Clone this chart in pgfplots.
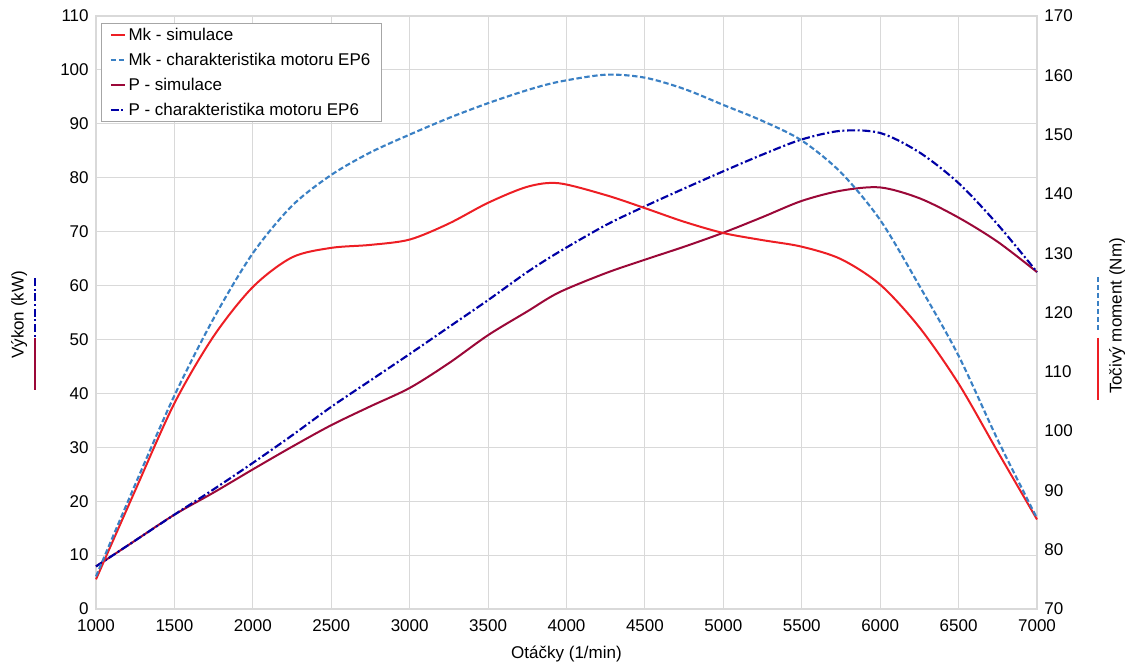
\documentclass[border=0pt]{standalone}
\usepackage{fontspec}
\setmainfont{Liberation Sans}
\usepackage{pgfplots}
\usepackage{pgfplotstable}
\pgfplotsset{compat=1.18}
\usetikzlibrary{calc}

\definecolor{mksim}{RGB}{237,30,36}
\definecolor{mkchar}{RGB}{58,128,196}
\definecolor{psim}{RGB}{155,8,56}
\definecolor{pchar}{RGB}{0,0,165}
\definecolor{gridgray}{RGB}{217,217,217}

% rpm, torque [Nm], power [kW]
\pgfplotstableread{
rpm   Mksim  Mkchar  Psim  Pchar
1000  75.0   75.5    7.9   7.9
1250  90.0   91.0    12.7  12.7
1500  104.7  106.0   17.5  17.5
1750  116.0  119.0   21.6  22.2
2000  124.3  130.0   25.9  27.1
2250  129.3  138.0   30.1  32.2
2500  130.9  143.2   34.1  37.5
2750  131.4  147.0   37.6  42.4
3000  132.3  150.0   41.0  47.3
3250  135.0  152.8   45.6  52.3
3500  138.5  155.3   50.8  57.3
3750  141.2  157.5   55.2  62.5
3950  141.8  158.9   58.7  66.2
4250  139.8  160.1   62.3  71.2
4500  137.6  159.6   64.8  74.7
4750  135.3  157.7   67.2  78.0
5000  133.4  155.0   69.8  81.2
5250  132.2  152.3   72.7  84.3
5500  131.1  149.0   75.7  87.1
5750  129.0  143.6   77.6  88.7
6000  124.7  135.6   78.2  88.3
6250  117.5  124.5   76.2  84.7
6500  108.0  112.7   72.6  79.0
6750  96.5   98.5    68.1  71.3
7000  85.1   85.3    62.5  62.5
}\enginedata

\tikzset{
  mksimline/.style={mksim, line width=1.5pt},
  mkcharline/.style={mkchar, line width=1.6pt, dash pattern=on 4pt off 2pt},
  psimline/.style={psim, line width=1.5pt},
  pcharline/.style={pchar, line width=1.6pt, dash pattern=on 6pt off 2pt on 1.5pt off 2pt},
}

\pgfplotsset{
  basestyle/.style={
    scale only axis,
    width=705.75pt, height=444.75pt,
    xmin=1000, xmax=7000,
    tick style={draw=none},
    /pgf/number format/assume math mode=true,
    /pgf/number format/1000 sep={},
    tick label style={font=\fontsize{12.75}{15}\selectfont},
    clip=false,
  },
}

\begin{document}
\begin{tikzpicture}[font=\fontsize{12.75}{15}\selectfont]
% power axis (left) with grid and rpm axis
\begin{axis}[
  basestyle,
  ymin=0, ymax=110,
  xtick={1000,1500,...,7000},
  ytick={0,10,...,110},
  grid=major,
  major grid style={gridgray, line width=0.8pt},
  axis line style={gridgray, line width=0.8pt},
  xticklabel style={yshift=-4.75pt},
  yticklabel style={xshift=-2pt},
  xlabel={Otáčky (1/min)},
  xlabel style={yshift=-3.5pt},
]
\addplot[psimline, smooth] table[x=rpm, y=Psim] {\enginedata};
\addplot[pcharline, smooth] table[x=rpm, y=Pchar] {\enginedata};
\coordinate (bl) at (rel axis cs:0,0);
\coordinate (tr) at (rel axis cs:1,1);
% y label with its line samples
\node[rotate=90, anchor=center] at (rel axis cs:-0.0818,0.496) {Výkon (kW)};
\draw[pcharline] (rel axis cs:-0.0648,0.558) -- (rel axis cs:-0.0648,0.459);
\draw[psimline] (rel axis cs:-0.0648,0.457) -- (rel axis cs:-0.0648,0.369);
\end{axis}
% torque axis (right)
\begin{axis}[
  basestyle,
  ymin=70, ymax=170,
  ytick={70,80,...,170},
  axis x line=none,
  axis y line*=right,
  y axis line style={draw=none},
  yticklabel style={xshift=2pt},
  legend style={
    at={(rel axis cs:0,1)}, anchor=north west, xshift=4pt, yshift=-5pt,
    draw=gray!70, line width=0.6pt, fill=white,
    font=\fontsize{12.75}{15}\selectfont,
    inner xsep=6pt, inner ysep=1.5pt, row sep=4pt,
    cells={anchor=west},
  },
  legend image code/.code={\draw[#1] (0pt,0pt) -- (10.5pt,0pt);},
]
\addplot[mksimline, smooth] table[x=rpm, y=Mksim] {\enginedata};
\addlegendentry{Mk - simulace}
\addplot[mkcharline, smooth] table[x=rpm, y=Mkchar] {\enginedata};
\addlegendentry{Mk - charakteristika motoru EP6}
\addlegendimage{psimline}
\addlegendentry{P - simulace}
\addlegendimage{pcharline}
\addlegendentry{P - charakteristika motoru EP6}
\node[rotate=90, anchor=center] at (rel axis cs:1.085,0.494) {Točivý moment (Nm)};
\draw[mkcharline] (rel axis cs:1.0648,0.560) -- (rel axis cs:1.0648,0.467);
\draw[mksimline] (rel axis cs:1.0648,0.457) -- (rel axis cs:1.0648,0.352);
\end{axis}
\pgfresetboundingbox
\path ($(bl)+(-72pt,-41.25pt)$) rectangle ($(tr)+(68.25pt,12pt)$);
\end{tikzpicture}
\end{document}
